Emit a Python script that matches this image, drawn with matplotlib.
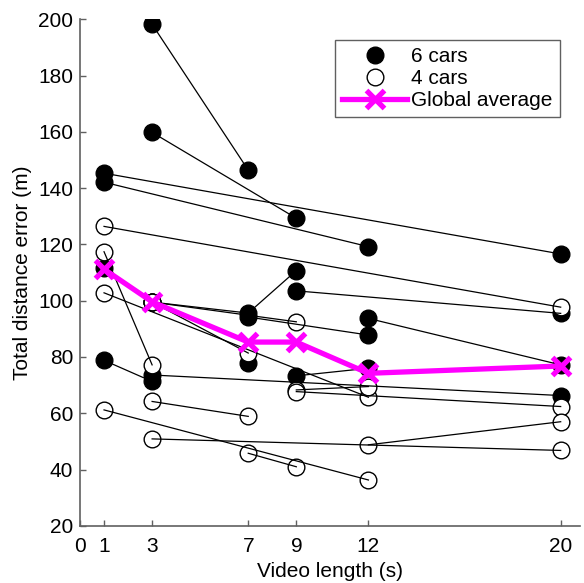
import matplotlib
matplotlib.use("Agg")
import matplotlib.pyplot as plt
from matplotlib.lines import Line2D

plt.rcParams['font.family'] = ['Liberation Sans', 'DejaVu Sans']

# each entry: (video lengths, total distance error) joined by one thin line
cars6 = [
    ([3, 7], [198.2, 146.4]),
    ([3, 9], [159.8, 129.3]),
    ([1, 20], [145.3, 116.6]),
    ([1, 12], [142.1, 119.2]),
    ([1, 3], [111.6, 99.5]),
    ([3, 7, 9], [99.5, 95.6, 110.7]),
    ([7, 12], [94.2, 87.8]),
    ([1, 3], [78.8, 71.3]),
    ([3, 20], [73.6, 66.3]),
    ([9, 20], [103.5, 95.5]),
    ([9, 12], [73.3, 76.0]),
    ([12, 20], [93.7, 77.2]),
    ([7], [77.8]),
]
cars4 = [
    ([1, 20], [126.4, 97.7]),
    ([1, 3], [117.4, 77.2]),
    ([1, 12], [102.8, 65.7]),
    ([1, 12], [61.2, 36.3]),
    ([3, 7], [64.2, 58.9]),
    ([3, 20], [50.9, 46.8]),
    ([3, 7], [99.5, 81.4]),
    ([3, 9], [99.5, 92.5]),
    ([7, 9], [45.8, 41.0]),
    ([9, 12], [68.3, 69.5]),
    ([9, 20], [67.7, 62.4]),
    ([12, 20], [48.8, 57.0]),
]
avg_x = [1, 3, 7, 9, 12, 20]
avg_y = [111.2, 99.6, 85.3, 85.3, 74.2, 76.8]

xticks = [0, 1, 3, 7, 9, 12, 20]
yticks = list(range(20, 201, 20))

fig = plt.figure(figsize=(5.84, 5.83), dpi=100)
ax = fig.add_axes([0.137, 0.098, 0.856, 0.869])

ms = 12
for xs, ys in cars6:
    ax.plot(xs, ys, ls='none', marker='o', ms=ms, mfc='black', mec='black', mew=1, zorder=2)
for xs, ys in cars4:
    ax.plot(xs, ys, ls='none', marker='o', ms=ms, mfc='white', mec='black', mew=1, zorder=3)
for xs, ys in cars6 + cars4:
    if len(xs) > 1:
        ax.plot(xs, ys, color='black', lw=0.9, zorder=4)

ax.plot(avg_x, avg_y, color='#ff00ff', lw=3.8, marker='x', ms=13, mew=3.8, zorder=5)

ax.set_xlim(0, 20.8)
ax.set_ylim(20, 200)
ax.set_xticks(xticks)
ax.set_yticks(yticks)
ax.tick_params(direction='in', length=4, width=1, color='#606060', labelsize=15)
ax.tick_params(axis='x', pad=8)
ax.tick_params(axis='y', pad=5)
for s in ['top', 'right']:
    ax.spines[s].set_visible(False)
for s in ['left', 'bottom']:
    ax.spines[s].set_color('#606060')
    ax.spines[s].set_linewidth(1.2)

ax.set_xlabel('Video length (s)', fontsize=15, labelpad=4)
ax.set_ylabel('Total distance error (m)', fontsize=15, labelpad=4)

handles = [
    Line2D([], [], ls='none', marker='o', ms=ms, mfc='black', mec='black'),
    Line2D([], [], ls='none', marker='o', ms=ms, mfc='white', mec='black'),
    Line2D([], [], color='#ff00ff', lw=3.8, marker='x', ms=13, mew=3.8),
]
leg = ax.legend(handles, ['6 cars', '4 cars', 'Global average'], loc='upper right',
                bbox_to_anchor=(0.96, 0.96), fontsize=15, fancybox=False, framealpha=1,
                edgecolor='#606060', handlelength=3.1, handletextpad=0.2,
                labelspacing=0.15, borderpad=0.35, borderaxespad=0)
leg.get_frame().set_linewidth(1.0)

fig.savefig('out.png', dpi=100)
